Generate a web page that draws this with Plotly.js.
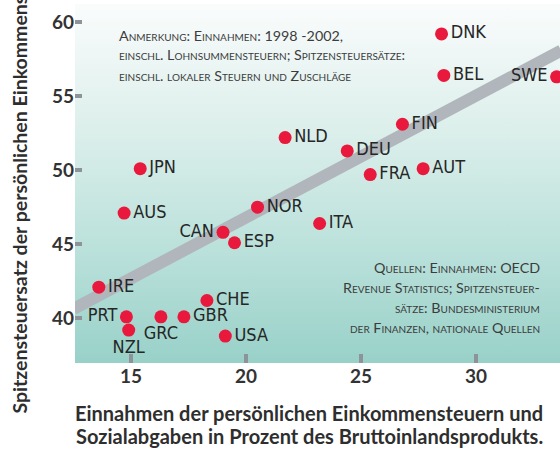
<!DOCTYPE html>
<html>
<head>
<meta charset="utf-8">
<script src="https://cdn.plot.ly/plotly-3.0.1.min.js"></script>
<style>
  html, body { margin: 0; padding: 0; background: #ffffff; }
  #wrap { position: relative; width: 560px; height: 455px; overflow: hidden; }
  #bg { position: absolute; left: 75px; top: 4px; width: 485px; height: 359px;
        background: linear-gradient(to bottom, #fafcfc 0%, #dcefeb 35%, #b9e0da 70%, #98d1c8 100%); }
  #chart { position: absolute; left: 0; top: 0; width: 560px; height: 455px; }
</style>
</head>
<body>
<div id="wrap"><div id="bg"></div><div id="chart"></div></div>
<script>
// Data
const countries = ["DNK","BEL","SWE","FIN","NLD","DEU","FRA","AUT","JPN","AUS","NOR","CAN","ESP","ITA","IRE","PRT","NZL","GRC","GBR","CHE","USA"];
const revenueShare = [28.5, 28.6, 33.5, 26.8, 21.7, 24.4, 25.4, 27.7, 15.4, 14.7, 20.5, 19.0, 19.5, 23.2, 13.6, 14.8, 14.9, 16.3, 17.3, 18.3, 19.1];
const topTaxRate   = [59.2, 56.4, 56.3, 53.1, 52.2, 51.3, 49.7, 50.1, 50.1, 47.1, 47.5, 45.8, 45.1, 46.4, 42.1, 40.1, 39.2, 40.1, 40.1, 41.2, 38.8];
const trendX = [12.5, 33.7];
const trendY = [40.63, 58.08];
const xTicks = [15, 20, 25, 30];
const yTicks = [40, 45, 50, 55, 60];

const noteLines = [
  "Anmerkung: Einnahmen: 1998 -2002,",
  "einschl. Lohnsummensteuern; Spitzensteuersätze:",
  "einschl. lokaler Steuern und Zuschläge"
];
const sourceLines = [
  "Quellen: Einnahmen: OECD",
  "Revenue Statistics; Spitzensteuer-",
  "sätze: Bundesministerium",
  "der Finanzen, nationale Quellen"
];
const xTitleLines = [
  "Einnahmen der persönlichen Einkommensteuern und",
  "Sozialabgaben in Prozent des Bruttoinlandsprodukts."
];
const yTitle = "Spitzensteuersatz der persönlichen Einkommensteuer";

// label placement (style, not data)
const labelSide = {CAN: "middle left", PRT: "middle left", SWE: "middle left", NZL: "bottom center", GRC: "bottom center"};
const textPos = countries.map(c => labelSide[c] || "middle right");

const FONT = "Lato, 'Open Sans', sans-serif";
const LABELFONT = "'DejaVu Sans Condensed', 'DejaVu Sans', sans-serif";

const traces = [
  {
    x: trendX, y: trendY, type: "scatter", mode: "lines",
    line: {color: "#b1b6bc", width: 12}, hoverinfo: "skip", showlegend: false
  },
  {
    x: revenueShare, y: topTaxRate, text: countries, type: "scatter", mode: "markers+text",
    textposition: textPos,
    textfont: {family: LABELFONT, size: 18, color: "#262626"},
    marker: {color: "#e8193c", size: 13, line: {width: 0}},
    showlegend: false, cliponaxis: false
  }
];

const py = p => 1 - (p - 4) / 359;
const px = p => (p - 75) / 485;

const annotations = [];
noteLines.forEach((t, i) => {
  annotations.push({
    xref: "paper", yref: "paper", x: px(117), y: py(35 + i * 20),
    xanchor: "left", yanchor: "middle", showarrow: false, align: "left", text: t,
    font: {family: FONT, size: 14.3, color: "#3c3c3c", variant: "small-caps"}
  });
});
sourceLines.forEach((t, i) => {
  annotations.push({
    xref: "paper", yref: "paper", x: px(542), y: py(267 + i * 20),
    xanchor: "right", yanchor: "middle", showarrow: false, align: "right", text: t,
    font: {family: FONT, size: 14.3, color: "#3c3c3c", variant: "small-caps"}
  });
});
xTitleLines.forEach((t, i) => {
  annotations.push({
    xref: "paper", yref: "paper", x: px(309), y: py(413 + i * 23),
    xanchor: "center", yanchor: "middle", showarrow: false, align: "center", text: t,
    font: {family: FONT, size: 20, color: "#2e2e2e", weight: "bold"}
  });
});
annotations.push({
  xref: "paper", yref: "paper", x: px(19), y: py(416),
  xanchor: "center", yanchor: "bottom", showarrow: false, textangle: -90, text: yTitle,
  font: {family: FONT, size: 19.5, color: "#2e2e2e", weight: "bold"}
});

const layout = {
  width: 560, height: 455,
  margin: {l: 75, r: 0, t: 4, b: 92, pad: 0},
  paper_bgcolor: "rgba(0,0,0,0)", plot_bgcolor: "rgba(0,0,0,0)",
  showlegend: false,
  xaxis: {
    range: [12.565, 33.65], tickvals: xTicks, ticktext: xTicks.map(String),
    ticks: "inside", ticklen: 9, tickwidth: 4, tickcolor: "#8d9399",
    showgrid: false, zeroline: false, showline: false,
    tickfont: {family: FONT, size: 19, color: "#333333", weight: "bold"}
  },
  yaxis: {
    range: [36.98, 61.22], tickvals: yTicks, ticktext: yTicks.map(String),
    ticks: "inside", ticklen: 7, tickwidth: 4, tickcolor: "#8d9399",
    showgrid: false, zeroline: false, showline: false,
    tickfont: {family: FONT, size: 19, color: "#333333", weight: "bold"}
  },
  annotations: annotations
};

Plotly.newPlot("chart", traces, layout, {displayModeBar: false, staticPlot: true});
</script>
</body>
</html>
